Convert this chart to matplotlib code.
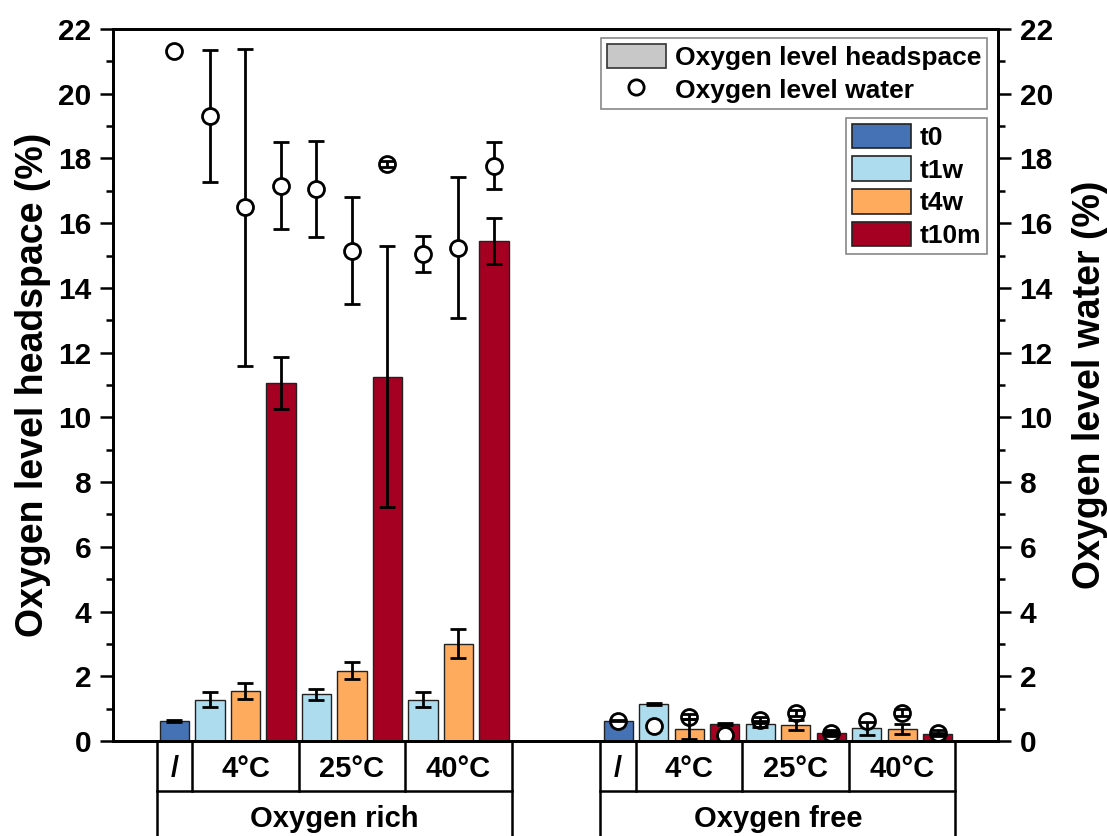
import matplotlib.pyplot as plt
from matplotlib.patches import Patch
from matplotlib.lines import Line2D

plt.rcParams['font.family'] = ['Liberation Sans', 'DejaVu Sans']
plt.rcParams['font.weight'] = 'bold'

# order in each group: t0, then t1w/t4w/t10m at 4, 25 and 40 °C
times = ['t0', 't1w', 't4w', 't10m']
temps = ['/', '4°C', '25°C', '40°C']
groups = ['Oxygen rich', 'Oxygen free']
series_time = ['t0', 't1w', 't4w', 't10m', 't1w', 't4w', 't10m', 't1w', 't4w', 't10m']

rich_head = [0.63, 1.27, 1.55, 11.05, 1.44, 2.17, 11.25, 1.27, 3.01, 15.45]
rich_head_err = [0.03, 0.23, 0.24, 0.80, 0.17, 0.26, 4.03, 0.23, 0.44, 0.70]
rich_water = [21.32, 19.31, 16.49, 17.16, 17.06, 15.15, 17.83, 15.04, 15.24, 17.78]
rich_water_err = [0.0, 2.03, 4.90, 1.34, 1.49, 1.65, 0.08, 0.55, 2.18, 0.72]

free_head = [0.63, 1.14, 0.36, 0.52, 0.52, 0.49, 0.26, 0.39, 0.37, 0.21]
free_head_err = [0.02, 0.04, 0.31, 0.03, 0.10, 0.15, 0.03, 0.20, 0.16, 0.03]
free_water = [0.63, 0.47, 0.75, 0.18, 0.65, 0.86, 0.24, 0.63, 0.88, 0.24]
free_water_err = [0.0, 0.0, 0.08, 0.0, 0.10, 0.10, 0.10, 0.0, 0.10, 0.10]

colors = {'t0': '#4572B5', 't1w': '#ADDCEE', 't4w': '#FFAB5E', 't10m': '#A50021'}

fig = plt.figure(figsize=(11.07, 8.36), dpi=100)
ax = fig.add_axes([113/1107, 95/836, 885/1107, 712/836])
ax2 = ax.twinx()

starts = [0, 12.5]   # slot of first bar in each group
head = [rich_head, free_head]
head_err = [rich_head_err, free_head_err]
water = [rich_water, free_water]
water_err = [rich_water_err, free_water_err]
ebkw = dict(fmt='none', ecolor='black', elinewidth=2.0, capsize=5.5, capthick=2.0)

for g in range(2):
    xs = [starts[g] + i for i in range(10)]
    ax.bar(xs, head[g], width=0.82, color=[colors[t] for t in series_time],
           edgecolor='#222222', linewidth=1.0, zorder=2)
    ax.errorbar(xs, head[g], yerr=head_err[g], zorder=6, **ebkw)
    # water error bars: large ones behind the markers, small ones on top
    big = [i for i in range(10) if water_err[g][i] > 0.3]
    small = [i for i in range(10) if 0 < water_err[g][i] <= 0.3]
    ax.errorbar([xs[i] for i in big], [water[g][i] for i in big],
                yerr=[water_err[g][i] for i in big], zorder=3, **ebkw)
    ax.plot(xs, water[g], 'o', ls='none', mfc='white', mec='black', ms=11.5,
            mew=2.0, zorder=4)
    ax.errorbar([xs[i] for i in small], [water[g][i] for i in small],
                yerr=[water_err[g][i] for i in small], zorder=5, **ebkw)

    # category table under the axis
    tr = ax.get_xaxis_transform()
    left = starts[g] - 0.5
    right = starts[g] + 9.5
    kw = dict(transform=tr, clip_on=False, color='black', lw=1.8)
    ax.plot([left, left], [0, -0.3], **kw)
    ax.plot([right, right], [0, -0.3], **kw)
    ax.plot([left, right], [-0.0702, -0.0702], **kw)
    edges = [left, left + 1, left + 4, left + 7, right]
    for e in edges[1:-1]:
        ax.plot([e, e], [0, -0.0702], **kw)
    for k in range(4):
        ax.text((edges[k] + edges[k + 1]) / 2, -0.0506, temps[k], transform=tr,
                ha='center', va='baseline', fontsize=21, fontweight='bold')
    ax.text((left + right) / 2, -0.1208, groups[g], transform=tr,
            ha='center', va='baseline', fontsize=21, fontweight='bold')

for a in (ax, ax2):
    a.set_ylim(0, 22)
    a.set_xlim(-1.732, 23.2)
    a.set_yticks(range(0, 23, 2))
    a.set_yticks(range(1, 22, 2), minor=True)
    a.tick_params(which='major', direction='out', length=9.5, width=1.8,
                  labelsize=21.5, pad=6)
    a.tick_params(which='minor', direction='out', length=5, width=1.8)
    for s in a.spines.values():
        s.set_linewidth(2)
ax.set_xticks([])
ax.set_ylabel('Oxygen level headspace (%)', fontsize=27, fontweight='bold', labelpad=5)
ax2.set_ylabel('Oxygen level water (%)', fontsize=27, fontweight='bold', labelpad=14)

lkw = dict(loc='upper right', borderaxespad=0, fontsize=19, handlelength=2.25,
           handleheight=1.06, labelspacing=0.24, handletextpad=0.33, borderpad=0.22,
           fancybox=False, edgecolor='#888888', framealpha=1)
h1 = [Patch(facecolor='#C8C8C8', edgecolor='#333333', linewidth=1.2),
      Line2D([], [], marker='o', ls='none', mfc='white', mec='black', ms=11, mew=2.0)]
leg1 = ax2.legend(h1, ['Oxygen level headspace', 'Oxygen level water'],
                  bbox_to_anchor=(0.9876, 0.9874), **lkw)
leg1.get_frame().set_linewidth(1.2)
ax2.add_artist(leg1)
h2 = [Patch(facecolor=colors[t], edgecolor='#222222', linewidth=1.2) for t in times]
leg2 = ax2.legend(h2, times, bbox_to_anchor=(0.9876, 0.875), **lkw)
leg2.get_frame().set_linewidth(1.2)

fig.savefig('out.png', dpi=100)
